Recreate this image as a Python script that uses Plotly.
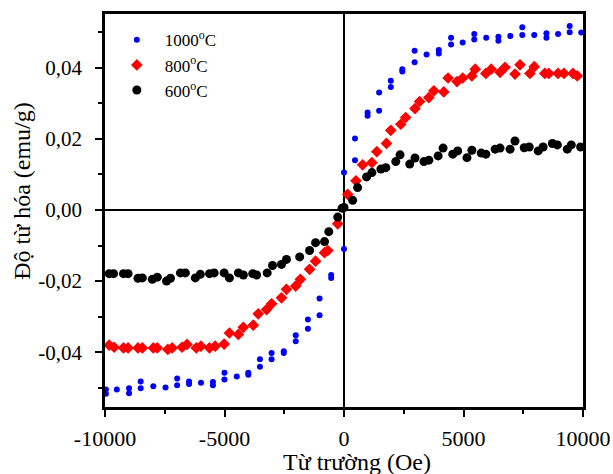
import plotly.graph_objects as go

# ---- data ----
h_1000 = [0, 0, 460, 460, 987, 987, 1470, 1470, 1958, 1958, 2440, 2440, 2955, 2955,
          3455, 3967, 3967, 4480, 4480, 4965, 5450, 5450, 5950, 6460, 6460, 6960,
          7460, 7460, 7960, 8470, 8470, 8957, 9443, 9443, 9925,
          -537, -537, -1023, -1023, -1510, -1510, -2020, -2020, -2520, -2520,
          -3031, -3031, -3518, -3518, -4004, -4004, -4486, -5002, -5002, -5484, -5484,
          -5984, -6483, -6483, -6981, -6981, -7468, -7979, -8507, -8507, -8994, -8994,
          -9505, -9963, -9963]
m_1000 = [0.0105, -0.0110, 0.0201, 0.0140, 0.0274, 0.0265, 0.0330, 0.0279, 0.0363, 0.0346,
          0.0396, 0.0389, 0.0448, 0.0415, 0.0437, 0.0450, 0.0440, 0.0484, 0.0465, 0.0471,
          0.0495, 0.0479, 0.0484, 0.0487, 0.0476, 0.0489, 0.0514, 0.0492, 0.0492, 0.0497,
          0.0484, 0.0495, 0.0517, 0.0500, 0.0499,
          -0.0183, -0.0191, -0.0249, -0.0296, -0.0308, -0.0334, -0.0352, -0.0369, -0.0397,
          -0.0402, -0.0402, -0.0420, -0.0420, -0.0441, -0.0458, -0.0463, -0.0468, -0.0458,
          -0.0477, -0.0484, -0.0493, -0.0486, -0.0482, -0.0489, -0.0474, -0.0493, -0.0499,
          -0.0496, -0.0482, -0.0501, -0.0501, -0.0515, -0.0505, -0.0505, -0.0517]

h_800 = [155, 500, 780, 1167, 1375, 1777, 1958, 2375, 2580, 2970, 3163, 3550, 3760, 4175,
         4355, 4730, 4965, 5350, 5490, 5935, 6160, 6530, 6740, 7155, 7365, 7780, 7960,
         8400, 8570, 8957, 9205, 9580, 9760,
         -262, -678, -815, -1190, -1440, -1825, -2020, -2407, -2615, -3031, -3239, -3588,
         -3796, -4212, -4420, -4794, -5015, -5389, -5626, -5984, -6180, -6567, -6775,
         -7190, -7372, -7813, -7979, -8437, -8620, -9035, -9227, -9617, -9825]
m_800 = [0.0044, 0.0082, 0.0127, 0.0133, 0.0164, 0.0187, 0.0224, 0.0241, 0.0260, 0.0285,
         0.0305, 0.0316, 0.0335, 0.0332, 0.0371, 0.0361, 0.0371, 0.0377, 0.0396, 0.0384,
         0.0396, 0.0387, 0.0401, 0.0382, 0.0408, 0.0384, 0.0403, 0.0384, 0.0384, 0.0384,
         0.0384, 0.0384, 0.0377,
         -0.0039, -0.0114, -0.0120, -0.0144, -0.0167, -0.0195, -0.0214, -0.0223, -0.0247,
         -0.0264, -0.0280, -0.0292, -0.0324, -0.0330, -0.0350, -0.0346, -0.0377, -0.0383,
         -0.0388, -0.0383, -0.0388, -0.0378, -0.0386, -0.0388, -0.0392, -0.0388, -0.0388,
         -0.0388, -0.0388, -0.0388, -0.0388, -0.0386, -0.0380]

h_600 = [0, 362, 570, 944, 1167, 1543, 1750, 2166, 2345, 2750, 2970, 3343, 3550, 3938,
         4145, 4550, 4757, 5145, 5350, 5742, 5935, 6325, 6530, 6950, 7155, 7540, 7750,
         8125, 8330, 8720, 8927, 9343, 9510, 9900,
         -80, -262, -636, -815, -1190, -1440, -1855, -2407, -2615, -2990, -3214, -3655,
         -3820, -4210, -4420, -4794, -5015, -5430, -5626, -6012, -6220, -6636, -6844,
         -7260, -7426, -7813, -8021, -8437, -8620, -9035, -9227, -9642, -9825]
m_600 = [0.0007, 0.0027, 0.0063, 0.0093, 0.0105, 0.0115, 0.0119, 0.0136, 0.0155, 0.0129,
         0.0146, 0.0136, 0.0140, 0.0152, 0.0174, 0.0157, 0.0166, 0.0147, 0.0168, 0.0160,
         0.0157, 0.0171, 0.0174, 0.0171, 0.0194, 0.0175, 0.0177, 0.0166, 0.0177, 0.0187,
         0.0183, 0.0171, 0.0183, 0.0177,
         0.0005, -0.0020, -0.0061, -0.0089, -0.0092, -0.0114, -0.0132, -0.0139, -0.0153,
         -0.0156, -0.0177, -0.0183, -0.0179, -0.0183, -0.0177, -0.0191, -0.0177, -0.0177,
         -0.0179, -0.0181, -0.0191, -0.0177, -0.0177, -0.0192, -0.0200, -0.0189, -0.0195,
         -0.0191, -0.0192, -0.0179, -0.0179, -0.0179, -0.0179]

series_names = ["1000<sup>o</sup>C", "800<sup>o</sup>C", "600<sup>o</sup>C"]

x_tickvals = [-10000, -5000, 0, 5000, 10000]
x_ticktext = ["-10000", "-5000", "0", "5000", "10000"]
y_tickvals = [-0.04, -0.02, 0.0, 0.02, 0.04]
y_ticktext = ["-0,04", "-0,02", "0,00", "0,02", "0,04"]

x_title = "Từ trường (Oe)"
y_title = "Độ từ hóa (emu/g)"

FONT = "Liberation Serif"

fig = go.Figure()
fig.add_trace(go.Scatter(x=h_1000, y=m_1000, mode="markers", name=series_names[0],
                         marker=dict(symbol="circle", size=6, color="#0000ff")))
fig.add_trace(go.Scatter(x=h_800, y=m_800, mode="markers", name=series_names[1],
                         marker=dict(symbol="diamond", size=9, color="#ff0000")))
fig.add_trace(go.Scatter(x=h_600, y=m_600, mode="markers", name=series_names[2],
                         marker=dict(symbol="circle", size=9, color="#000000")))

axis_common = dict(
    showline=True, linecolor="black", linewidth=2.5, mirror=True,
    showgrid=False, zeroline=True, zerolinecolor="black", zerolinewidth=2,
    ticks="outside", ticklen=7, tickwidth=1.5, tickcolor="black", automargin=False,
)

fig.update_xaxes(range=[-10000, 10000], tickvals=x_tickvals, ticktext=x_ticktext,
                 tickfont=dict(family=FONT, size=22, color="black"),
                 minor=dict(ticks="outside", ticklen=4, tickwidth=1.5, tickcolor="black", dtick=2500, tick0=0),
                 ticklabelstandoff=3, **axis_common)
fig.update_yaxes(range=[-0.0554, 0.0551], tickvals=y_tickvals, ticktext=y_ticktext,
                 tickfont=dict(family=FONT, size=21, color="black"),
                 minor=dict(ticks="outside", ticklen=4, tickwidth=1.5, tickcolor="black", dtick=0.01, tick0=0),
                 ticklabelstandoff=9, **axis_common)

fig.add_annotation(text=x_title, xref="paper", yref="paper", x=0.527, y=0, yshift=-55,
                   xanchor="center", yanchor="middle", showarrow=False,
                   font=dict(family=FONT, size=24, color="black"))
fig.add_annotation(text=y_title, xref="paper", yref="paper", x=0, xshift=-83, y=0.55,
                   xanchor="center", yanchor="middle", textangle=-90, showarrow=False,
                   font=dict(family=FONT, size=24, color="black"))

fig.update_layout(
    width=613, height=474,
    margin=dict(l=105, r=30, t=14, b=67),
    paper_bgcolor="white", plot_bgcolor="white",
    showlegend=True,
    legend=dict(x=0.008, y=0.979, xanchor="left", yanchor="top",
                bgcolor="rgba(0,0,0,0)", font=dict(family=FONT, size=17, color="black"),
                itemwidth=46),
    font=dict(family=FONT),
)

fig.write_html("out.html")
